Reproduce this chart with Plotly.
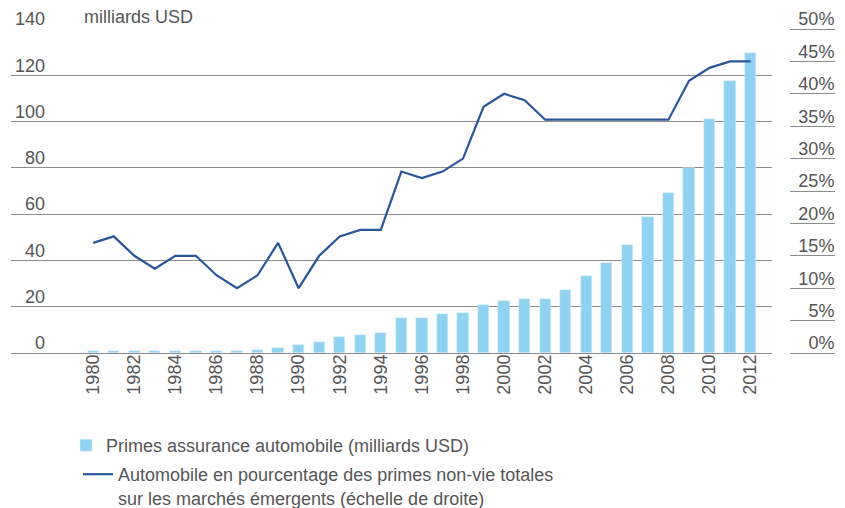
import plotly.graph_objects as go

years = list(range(1980, 2013))
premiums_bn = [0.8, 1.0, 0.8, 0.8, 0.9, 0.9, 0.8, 0.8, 1.4, 2.0, 3.3, 4.9, 6.7, 7.9, 8.8,
               15.1, 15.1, 16.7, 17.3, 20.6, 22.6, 23.4, 23.4, 27.3, 33.1, 39.1, 46.8,
               58.7, 69.3, 79.9, 100.9, 117.7, 129.5]
share_pct = [17, 18, 15, 13, 15, 15, 12, 10, 12, 17, 10, 15, 18, 19, 19, 28, 27, 28, 30,
             38, 40, 39, 36, 36, 36, 36, 36, 36, 36, 42, 44, 45, 45]
left_ticks = [0, 20, 40, 60, 80, 100, 120, 140]
right_ticks = [0, 5, 10, 15, 20, 25, 30, 35, 40, 45, 50]
year_ticks = list(range(1980, 2013, 2))

bar_name = "Primes assurance automobile (milliards USD)"
line_name = "Automobile en pourcentage des primes non-vie totales<br>sur les marchés émergents (échelle de droite)"

FONT = "Liberation Sans"
TXT = "#555555"
GRID = "#8c8c8c"
FS = 18

W, H = 845, 508
ml, mr, mt, mb = 11, 10, 29, 155
pw = W - ml - mr

fig = go.Figure()
fig.add_trace(go.Bar(x=years, y=premiums_bn, name=bar_name, marker_color="#8fd3f0",
                     width=0.55, legend="legend"))
fig.add_trace(go.Scatter(x=years, y=share_pct, name=line_name, mode="lines",
                         line=dict(color="#2a5599", width=2.2), yaxis="y2", legend="legend2"))

fig.update_layout(
    width=W, height=H,
    margin=dict(l=ml, r=mr, t=mt, b=mb, autoexpand=False),
    plot_bgcolor="white", paper_bgcolor="white",
    font=dict(family=FONT, size=FS, color=TXT),
    bargap=0,
    xaxis=dict(domain=[0, (772 - ml) / pw], range=[1976, 2013.04], automargin=False,
               tickvals=year_ticks, ticktext=[str(y) for y in year_ticks],
               tickangle=-90, showgrid=False, showline=False, zeroline=False,
               ticks="", ticklabelstandoff=-3, tickfont=dict(size=FS)),
    yaxis=dict(range=[0, 140], tickvals=left_ticks, anchor="free", automargin=False,
               position=(45 - ml) / pw, side="left",
               showgrid=True, gridcolor=GRID, gridwidth=1.3,
               zeroline=True, zerolinecolor=GRID, zerolinewidth=1.3,
               showline=False, ticks="", ticklabelshift=-10, ticklabelstandoff=0,
               tickfont=dict(size=FS)),
    yaxis2=dict(range=[0, 50], tickvals=right_ticks, ticktext=[f"{v}%" for v in right_ticks],
                overlaying="y", anchor="free", position=1, side="left", automargin=False,
                showgrid=False, zeroline=False, showline=False,
                ticks="outside", ticklen=45, tickcolor=GRID, tickwidth=1.3,
                ticklabelstandoff=-48, ticklabelshift=-10, tickfont=dict(size=FS)),
    legend=dict(xref="container", yref="container", x=66 / W, y=1 - 427 / H,
                xanchor="left", yanchor="top", bgcolor="rgba(0,0,0,0)",
                font=dict(size=FS, color=TXT)),
    legend2=dict(xref="container", yref="container", x=78 / W, y=1 - 456 / H,
                 xanchor="left", yanchor="top", bgcolor="rgba(0,0,0,0)", valign="top",
                 font=dict(size=FS, color=TXT)),
    showlegend=True,
    annotations=[dict(text="milliards USD", xref="paper", yref="paper",
                      x=(82 - ml) / pw, y=1, xanchor="left", yanchor="bottom",
                      showarrow=False, font=dict(size=FS, color=TXT), yshift=0)],
)

fig.write_html("out.html", config={"displayModeBar": False},
               post_script="document.body.style.margin='0';")
